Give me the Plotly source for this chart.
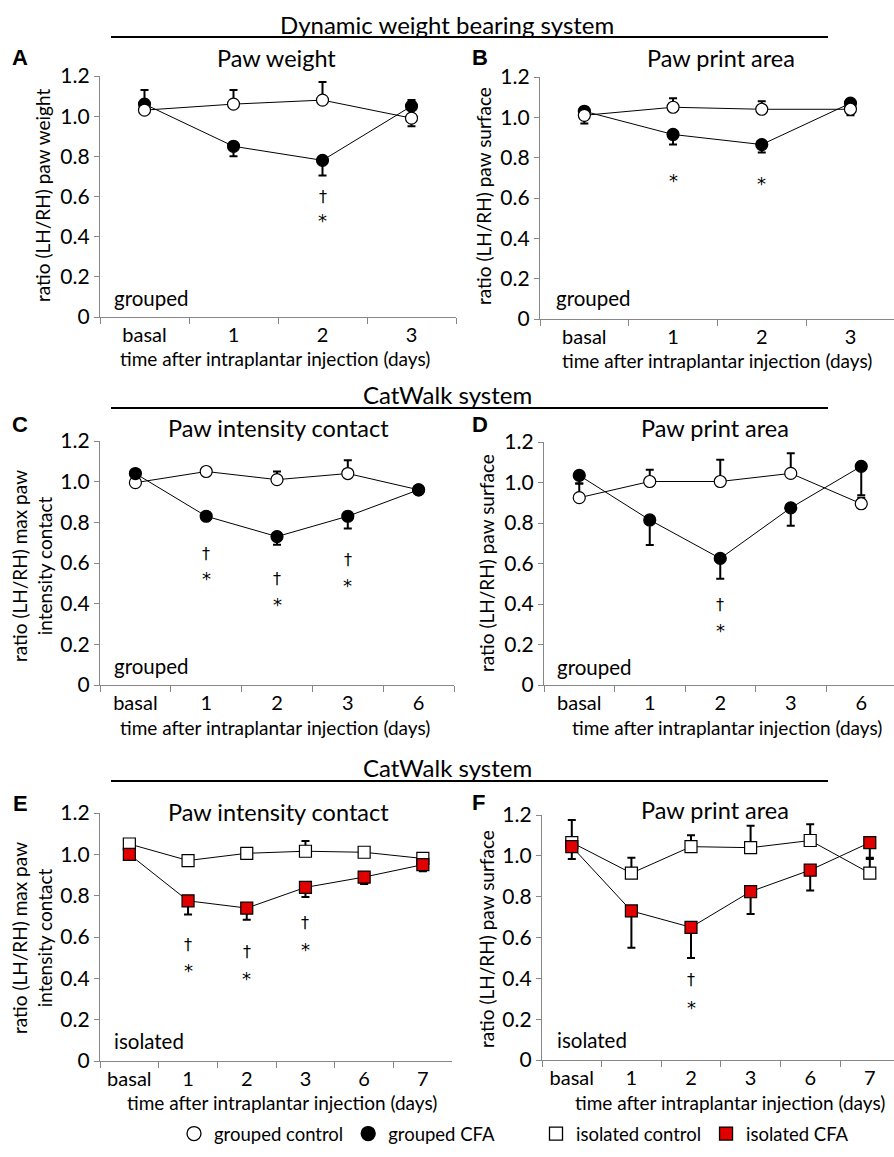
import plotly.graph_objects as go

W, H = 894, 1157

# ---------------- data ----------------
cats_AB = ["basal", "1", "2", "3"]
cats_CD = ["basal", "1", "2", "3", "6"]
cats_EF = ["basal", "1", "2", "3", "6", "7"]

# A: Dynamic weight bearing - Paw weight (grouped)
A_ctrl = [1.03, 1.06, 1.08, 0.99]
A_ctrl_err = [0.10, 0.07, 0.09, 0.09]
A_cfa = [1.06, 0.85, 0.78, 1.05]
A_cfa_err = [0.03, 0.05, 0.075, 0.10]
A_dagger = {"2": 0.60}
A_star = {"2": 0.50}

# B: Dynamic weight bearing - Paw print area (grouped)
B_ctrl = [1.01, 1.05, 1.04, 1.04]
B_ctrl_err = [0.04, 0.045, 0.04, 0.03]
B_cfa = [1.03, 0.915, 0.865, 1.07]
B_cfa_err = [0.06, 0.05, 0.04, 0.06]
B_dagger = {}
B_star = {"1": 0.705, "2": 0.69}

# C: CatWalk - Paw intensity contact (grouped)
C_ctrl = [0.995, 1.05, 1.01, 1.04, 0.96]
C_ctrl_err = [0.02, 0.01, 0.04, 0.065, 0.01]
C_cfa = [1.04, 0.83, 0.73, 0.83, 0.96]
C_cfa_err = [0.02, 0.01, 0.04, 0.06, 0.01]
C_dagger = {"1": 0.648, "2": 0.525, "3": 0.618}
C_star = {"1": 0.541, "2": 0.418, "3": 0.511}

# D: CatWalk - Paw print area (grouped)
D_ctrl = [0.925, 1.005, 1.005, 1.045, 0.895]
D_ctrl_err = [0.07, 0.058, 0.107, 0.10, 0.03]
D_cfa = [1.035, 0.815, 0.625, 0.875, 1.08]
D_cfa_err = [0.04, 0.124, 0.10, 0.088, 0.143]
D_dagger = {"2": 0.40}
D_star = {"2": 0.288}

# E: CatWalk - Paw intensity contact (isolated)
E_ctrl = [1.05, 0.97, 1.005, 1.015, 1.01, 0.98]
E_ctrl_err = [0.02, 0.025, 0.01, 0.05, 0.01, 0.01]
E_cfa = [1.0, 0.775, 0.74, 0.84, 0.89, 0.95]
E_cfa_err = [0.01, 0.066, 0.056, 0.047, 0.033, 0.032]
E_dagger = {"1": 0.566, "2": 0.532, "3": 0.671}
E_star = {"1": 0.456, "2": 0.42, "3": 0.561, "6": 0.731}

# F: CatWalk - Paw print area (isolated)
F_ctrl = [1.065, 0.915, 1.045, 1.04, 1.075, 0.915]
F_ctrl_err = [0.11, 0.076, 0.056, 0.107, 0.08, 0.075]
F_cfa = [1.045, 0.73, 0.65, 0.825, 0.93, 1.065]
F_cfa_err = [0.06, 0.18, 0.15, 0.11, 0.10, 0.08]
F_dagger = {"2": 0.392}
F_star = {"2": 0.278}

y_tickvals = [0, 0.2, 0.4, 0.6, 0.8, 1.0, 1.2]
y_ticktext = ["0", "0.2", "0.4", "0.6", "0.8", "1.0", "1.2"]

section_titles = ["Dynamic weight bearing system", "CatWalk system", "CatWalk system"]
legend_names = ["grouped control", "grouped CFA", "isolated control", "isolated CFA"]
x_title = "time after intraplantar injection (days)"

# ---------------- layout helpers ----------------
FONT = "Lato, Calibri, Carlito, sans-serif"
SYM_FONT = "DejaVu Sans, sans-serif"
AXIS_GRAY = "#878787"
RED = "#E00000"


def fx(px):
    return px / W


def fy(py):
    return 1 - py / H


panels = [
    dict(letter="A", cats=cats_AB, ctrl=A_ctrl, ctrl_err=A_ctrl_err, cfa=A_cfa, cfa_err=A_cfa_err,
         dag=A_dagger, star=A_star, group="grouped", title="Paw weight",
         ytitle="ratio (LH/RH) paw weight",
         box=(100, 456, 76, 317), spacing=89.0, top="ctrl",
         title_pos=(276, 58), letter_pos=(20, 58), ytitle_pos=(43, 196), xtitle_pos=(275, 359),
         group_pos=(112, 298)),
    dict(letter="B", cats=cats_AB, ctrl=B_ctrl, ctrl_err=B_ctrl_err, cfa=B_cfa, cfa_err=B_cfa_err,
         dag=B_dagger, star=B_star, group="grouped", title="Paw print area",
         ytitle="ratio (LH/RH) paw surface",
         box=(540, 894, 77, 319), spacing=88.7, top="ctrl",
         title_pos=(721, 58), letter_pos=(480, 58), ytitle_pos=(484, 196), xtitle_pos=(717, 360),
         group_pos=(554, 298)),
    dict(letter="C", cats=cats_CD, ctrl=C_ctrl, ctrl_err=C_ctrl_err, cfa=C_cfa, cfa_err=C_cfa_err,
         dag=C_dagger, star=C_star, group="grouped", title="Paw intensity contact",
         ytitle="ratio (LH/RH) max paw<br>intensity contact",
         box=(100, 454, 441, 685), spacing=70.8, top="cfa",
         title_pos=(278, 428), letter_pos=(20, 425), ytitle_pos=(32, 566), xtitle_pos=(275, 727),
         group_pos=(112, 666)),
    dict(letter="D", cats=cats_CD, ctrl=D_ctrl, ctrl_err=D_ctrl_err, cfa=D_cfa, cfa_err=D_cfa_err,
         dag=D_dagger, star=D_star, group="grouped", title="Paw print area",
         ytitle="ratio (LH/RH) paw surface",
         box=(544, 894, 442, 685), spacing=70.5, top="cfa",
         title_pos=(715, 428), letter_pos=(480, 425), ytitle_pos=(486, 563), xtitle_pos=(727, 727),
         group_pos=(555, 667)),
    dict(letter="E", cats=cats_EF, ctrl=E_ctrl, ctrl_err=E_ctrl_err, cfa=E_cfa, cfa_err=E_cfa_err,
         dag=E_dagger, star=E_star, group="isolated", title="Paw intensity contact",
         ytitle="ratio (LH/RH) max paw<br>intensity contact",
         box=(100, 452, 813, 1061), spacing=58.7, top="cfa",
         title_pos=(278, 812), letter_pos=(20, 803), ytitle_pos=(32, 938), xtitle_pos=(282, 1102),
         group_pos=(112, 1041)),
    dict(letter="F", cats=cats_EF, ctrl=F_ctrl, ctrl_err=F_ctrl_err, cfa=F_cfa, cfa_err=F_cfa_err,
         dag=F_dagger, star=F_star, group="isolated", title="Paw print area",
         ytitle="ratio (LH/RH) paw surface",
         box=(542, 894, 815, 1060), spacing=59.6, top="cfa",
         title_pos=(715, 810), letter_pos=(478, 802), ytitle_pos=(486, 939), xtitle_pos=(730, 1102),
         group_pos=(555, 1040)),
]

fig = go.Figure()
annotations = []
layout_axes = {}

for i, p in enumerate(panels, start=1):
    xa = "x" if i == 1 else f"x{i}"
    ya = "y" if i == 1 else f"y{i}"
    xkey = "xaxis" if i == 1 else f"xaxis{i}"
    ykey = "yaxis" if i == 1 else f"yaxis{i}"
    x0, x1, y0, y1 = p["box"]
    range_end = -0.5 + (x1 - x0) / p["spacing"]
    n = len(p["cats"])
    isolated = p["group"] == "isolated"
    symbol = "square" if isolated else "circle"
    cfa_color = RED if isolated else "black"

    layout_axes[xkey] = dict(
        domain=[fx(x0), fx(x1)], anchor=ya, type="category", categoryorder="array",
        categoryarray=p["cats"], range=[-0.5, range_end], tickson="boundaries",
        ticks="outside", ticklen=6, tickwidth=1, tickcolor=AXIS_GRAY,
        showline=True, linecolor=AXIS_GRAY, linewidth=1.3, showgrid=False, zeroline=False,
        tickfont=dict(family=FONT, size=20, color="black"), fixedrange=True, automargin=False,
    )
    layout_axes[ykey] = dict(
        domain=[fy(y1), fy(y0)], anchor=xa, range=[0, 1.2], tickvals=y_tickvals,
        ticktext=y_ticktext, ticks="outside", ticklen=5, tickwidth=1, tickcolor=AXIS_GRAY,
        showline=True, linecolor=AXIS_GRAY, linewidth=1.3, showgrid=False, zeroline=False,
        tickfont=dict(family=FONT, size=21, color="black"), fixedrange=True, automargin=False,
    )

    zeros = [0] * n
    # error bars first (drawn beneath all markers)
    fig.add_trace(go.Scatter(
        x=p["cats"], y=p["ctrl"], xaxis=xa, yaxis=ya, mode="markers",
        marker=dict(color="rgba(0,0,0,0)", size=2),
        error_y=dict(type="data", symmetric=False, array=p["ctrl_err"], arrayminus=zeros,
                     color="black", thickness=2, width=4),
        showlegend=False, hoverinfo="skip"))
    fig.add_trace(go.Scatter(
        x=p["cats"], y=p["cfa"], xaxis=xa, yaxis=ya, mode="markers",
        marker=dict(color="rgba(0,0,0,0)", size=2),
        error_y=dict(type="data", symmetric=False, array=zeros, arrayminus=p["cfa_err"],
                     color="black", thickness=2, width=4),
        showlegend=False, hoverinfo="skip"))

    ctrl_trace = go.Scatter(
        x=p["cats"], y=p["ctrl"], xaxis=xa, yaxis=ya, mode="lines+markers",
        line=dict(color="black", width=1),
        marker=dict(symbol=symbol, size=12, color="white",
                    line=dict(color="black", width=1.2)),
        showlegend=False)
    cfa_trace = go.Scatter(
        x=p["cats"], y=p["cfa"], xaxis=xa, yaxis=ya, mode="lines+markers",
        line=dict(color="black", width=1),
        marker=dict(symbol=symbol, size=12, color=cfa_color,
                    line=dict(color="black", width=1.2)),
        showlegend=False)
    if p["top"] == "ctrl":
        fig.add_trace(cfa_trace)
        fig.add_trace(ctrl_trace)
    else:
        fig.add_trace(ctrl_trace)
        fig.add_trace(cfa_trace)

    # significance markers
    for cat, yv in p["dag"].items():
        annotations.append(dict(x=cat, y=yv, xref=xa, yref=ya, text="†", showarrow=False,
                                font=dict(family=SYM_FONT, size=16, color="black"),
                                xanchor="center", yanchor="middle"))
    for cat, yv in p["star"].items():
        annotations.append(dict(x=cat, y=yv, xref=xa, yref=ya, text="*", showarrow=False,
                                font=dict(family=SYM_FONT, size=18, color="black"),
                                xanchor="center", yanchor="middle", yshift=-4))

    # panel texts
    tx, ty = p["title_pos"]
    annotations.append(dict(x=fx(tx), y=fy(ty), xref="paper", yref="paper", text=p["title"],
                            showarrow=False, font=dict(family=FONT, size=23.5, color="black"),
                            xanchor="center", yanchor="middle"))
    lx, ly = p["letter_pos"]
    annotations.append(dict(x=fx(lx), y=fy(ly), xref="paper", yref="paper",
                            text="<b>" + p["letter"] + "</b>", showarrow=False,
                            font=dict(family="Liberation Sans, Arial, sans-serif", size=22,
                                      color="black"),
                            xanchor="center", yanchor="middle"))
    yx, yy = p["ytitle_pos"]
    annotations.append(dict(x=fx(yx), y=fy(yy), xref="paper", yref="paper", text=p["ytitle"],
                            textangle=-90, showarrow=False,
                            font=dict(family=FONT, size=19, color="black"),
                            xanchor="center", yanchor="middle"))
    xx, xy = p["xtitle_pos"]
    annotations.append(dict(x=fx(xx), y=fy(xy), xref="paper", yref="paper", text=x_title,
                            showarrow=False, font=dict(family=FONT, size=19, color="black"),
                            xanchor="center", yanchor="middle"))
    gx, gy = p["group_pos"]
    annotations.append(dict(x=fx(gx), y=fy(gy), xref="paper", yref="paper", text=p["group"],
                            showarrow=False, font=dict(family=FONT, size=20.5, color="black"),
                            xanchor="left", yanchor="middle"))

# section titles and rules
section_text_y = [24, 394, 767]
section_line_y = [37, 408, 781]
shapes = []
for txt, ty, ly in zip(section_titles, section_text_y, section_line_y):
    annotations.append(dict(x=fx(447), y=fy(ty), xref="paper", yref="paper", text=txt,
                            showarrow=False, font=dict(family=FONT, size=24, color="black"),
                            xanchor="center", yanchor="middle"))
    shapes.append(dict(type="line", xref="paper", yref="paper", x0=fx(111), x1=fx(828),
                       y0=fy(ly), y1=fy(ly), line=dict(color="black", width=2)))

# legend entries
legend_styles = [
    dict(symbol="circle", color="white", legend="legend"),
    dict(symbol="circle", color="black", legend="legend"),
    dict(symbol="square", color="white", legend="legend2"),
    dict(symbol="square", color=RED, legend="legend2"),
]
for name, st in zip(legend_names, legend_styles):
    fig.add_trace(go.Scatter(
        x=[None], y=[None], mode="markers", name=name, legend=st["legend"],
        marker=dict(symbol=st["symbol"], size=14 if st["symbol"] == "circle" else 13,
                    color=st["color"], line=dict(color="black", width=1.3)),
        showlegend=True))

fig.update_layout(
    width=W, height=H, margin=dict(l=0, r=0, t=0, b=0, pad=0, autoexpand=False),
    paper_bgcolor="white", plot_bgcolor="white",
    font=dict(family=FONT, color="black"),
    annotations=annotations, shapes=shapes,
    legend=dict(orientation="h", x=fx(174), y=fy(1134), xanchor="left", yanchor="middle",
                font=dict(family=FONT, size=18.5, color="black"), bgcolor="rgba(0,0,0,0)",
                itemwidth=30, tracegroupgap=0),
    legend2=dict(orientation="h", x=fx(536), y=fy(1134), xanchor="left", yanchor="middle",
                 font=dict(family=FONT, size=18.5, color="black"), bgcolor="rgba(0,0,0,0)",
                 itemwidth=30, tracegroupgap=0),
    **layout_axes,
)

fig.write_html(
    "out.html",
    config={"displayModeBar": False},
    post_script="document.body.style.margin='0';document.body.style.overflow='hidden';",
)
